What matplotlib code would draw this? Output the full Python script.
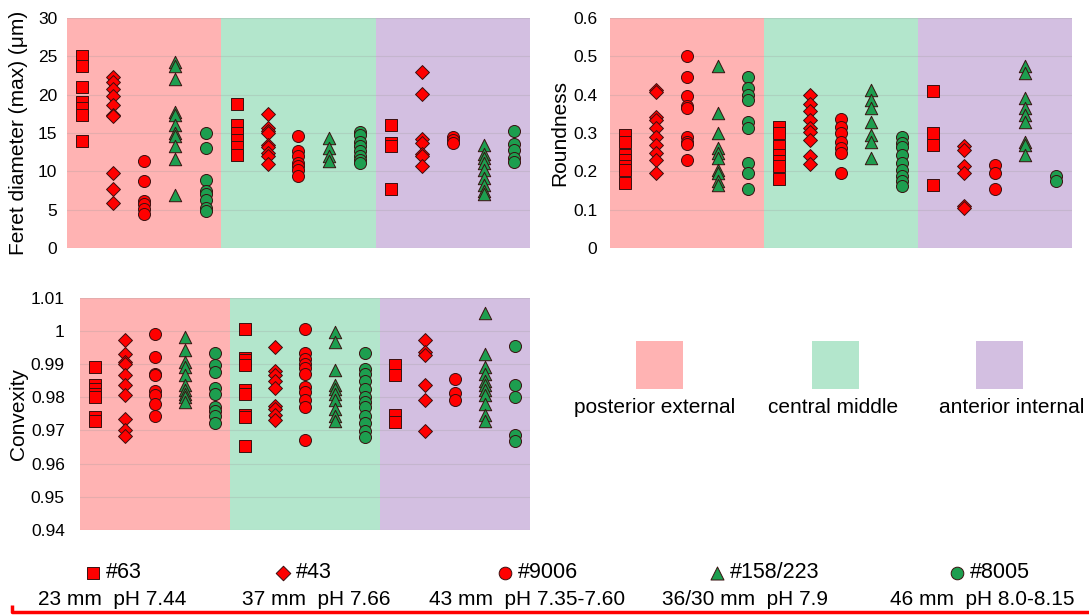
import matplotlib.pyplot as plt
import numpy as np

plt.rcParams['font.family'] = ['Liberation Sans', 'DejaVu Sans']

# regions (background bands) and series
regions = ['posterior external', 'central middle', 'anterior internal']
region_colors = ['#ffb3b3', '#b3e6cc', '#d3bfe1']
series = ['#63', '#43', '#9006', '#158/223', '#8005']
series_info = ['23 mm  pH 7.44', '37 mm  pH 7.66', '43 mm  pH 7.35-7.60',
               '36/30 mm  pH 7.9', '46 mm  pH 8.0-8.15']
series_markers = ['s', 'D', 'o', '^', 'o']
series_colors = ['#ff0000', '#ff0000', '#ff0000', '#1d9e4f', '#1d9e4f']
series_sizes = [78, 50, 75, 80, 75]

# Feret diameter (max), one list per region
feret_63 = [[25.0, 23.7, 21.0, 19.1, 18.3, 17.4, 14.0],
            [18.8, 16.1, 15.0, 14.1, 13.2, 12.2],
            [16.0, 13.7, 13.3, 7.7]]
feret_43 = [[22.3, 21.7, 20.7, 19.8, 18.7, 17.4, 17.2, 9.8, 7.7, 5.9],
            [17.5, 15.7, 15.3, 15.0, 13.5, 13.2, 12.4, 12.0, 11.0],
            [23.0, 20.1, 14.2, 13.7, 12.3, 12.0, 10.7]]
feret_9006 = [[11.4, 8.7, 6.2, 5.7, 5.1, 4.5],
              [14.6, 12.6, 12.0, 11.1, 10.7, 10.2, 9.4],
              [14.5, 14.1, 13.7]]
feret_158 = [[24.3, 23.7, 22.0, 17.8, 17.3, 16.0, 15.0, 14.6, 13.3, 11.6, 6.9],
             [14.3, 13.0, 12.0, 11.3],
             [13.5, 12.3, 11.7, 11.1, 10.2, 9.1, 8.3, 7.5, 7.0]]
feret_8005 = [[15.0, 13.0, 8.9, 7.5, 7.0, 6.3, 5.2, 4.8],
              [15.1, 14.8, 13.9, 13.3, 12.6, 12.0, 11.5, 11.1],
              [15.3, 13.6, 12.8, 11.7, 11.2]]

# Roundness
round_63 = [[0.296, 0.278, 0.243, 0.230, 0.213, 0.203, 0.171],
            [0.317, 0.300, 0.265, 0.243, 0.226, 0.213, 0.180],
            [0.409, 0.300, 0.268, 0.165]]
round_43 = [[0.413, 0.407, 0.342, 0.335, 0.313, 0.291, 0.270, 0.248, 0.230, 0.197],
            [0.400, 0.376, 0.357, 0.335, 0.313, 0.304, 0.283, 0.241, 0.220],
            [0.265, 0.257, 0.213, 0.196, 0.109, 0.104]]
round_9006 = [[0.500, 0.446, 0.396, 0.371, 0.365, 0.291, 0.278, 0.272, 0.230],
              [0.337, 0.317, 0.300, 0.278, 0.261, 0.248, 0.196],
              [0.217, 0.196, 0.154]]
round_158 = [[0.474, 0.352, 0.300, 0.261, 0.248, 0.235, 0.204, 0.197, 0.174, 0.165],
             [0.413, 0.387, 0.365, 0.330, 0.296, 0.278, 0.235],
             [0.474, 0.457, 0.391, 0.365, 0.348, 0.330, 0.278, 0.270, 0.243]]
round_8005 = [[0.446, 0.417, 0.400, 0.387, 0.328, 0.313, 0.223, 0.196, 0.154],
              [0.291, 0.274, 0.263, 0.243, 0.223, 0.204, 0.187, 0.174, 0.163],
              [0.187, 0.174]]

# Convexity
conv_63 = [[0.9892, 0.9836, 0.9826, 0.9811, 0.9800, 0.9742, 0.9730],
           [1.0006, 0.9920, 0.9912, 0.9897, 0.9821, 0.9811, 0.9748, 0.9740, 0.9654],
           [0.9897, 0.9867, 0.9748, 0.9725]]
conv_43 = [[0.9975, 0.9930, 0.9907, 0.9902, 0.9867, 0.9836, 0.9806, 0.9735, 0.9701, 0.9682],
           [0.9951, 0.9880, 0.9867, 0.9849, 0.9828, 0.9775, 0.9765, 0.9748, 0.9732],
           [0.9975, 0.9938, 0.9928, 0.9838, 0.9791, 0.9699]]
conv_9006 = [[0.9993, 0.9922, 0.9872, 0.9867, 0.9819, 0.9806, 0.9780, 0.9745],
             [1.0006, 0.9933, 0.9917, 0.9902, 0.9890, 0.9870, 0.9831, 0.9816, 0.9791, 0.9772, 0.9671],
             [0.9855, 0.9813, 0.9791]]
conv_158 = [[0.9983, 0.9943, 0.9907, 0.9892, 0.9867, 0.9836, 0.9821, 0.9811, 0.9800, 0.9785],
            [0.9999, 0.9968, 0.9882, 0.9839, 0.9826, 0.9811, 0.9791, 0.9765, 0.9745, 0.9730],
            [1.0056, 0.9931, 0.9892, 0.9872, 0.9851, 0.9836, 0.9821, 0.9806, 0.9780, 0.9748, 0.9730]]
conv_8005 = [[0.9935, 0.9897, 0.9877, 0.9829, 0.9809, 0.9770, 0.9760, 0.9745, 0.9722],
             [0.9933, 0.9887, 0.9872, 0.9851, 0.9826, 0.9800, 0.9785, 0.9770, 0.9745, 0.9722, 0.9699, 0.9681],
             [0.9955, 0.9836, 0.9800, 0.9687, 0.9669]]

fig = plt.figure(figsize=(10.89, 6.16), dpi=100)


def panel(rect, data, ylim, yticks, ticklabels, ylabel, pad, label_x):
    ax = fig.add_axes(rect)
    for r in range(3):
        ax.axvspan(r * 5, r * 5 + 5, color=region_colors[r], lw=0, zorder=0)
    for t in yticks:
        ax.axhline(t, color='#999999', alpha=0.25, lw=0.8, zorder=1)
    for j, vals in enumerate(data):
        for r in range(3):
            x = np.full(len(vals[r]), r * 5 + j + 0.5)
            ax.scatter(x, vals[r], marker=series_markers[j], s=series_sizes[j],
                       c=series_colors[j], edgecolors='#3a1010', linewidths=0.7, zorder=3)
    ax.set_xlim(0, 15)
    ax.set_ylim(*ylim)
    ax.set_yticks(yticks)
    ax.set_yticklabels(ticklabels, fontsize=12.5)
    ax.set_xticks([])
    ax.tick_params(axis='y', length=0, pad=pad)
    for s in ax.spines.values():
        s.set_visible(False)
    ax.set_ylabel(ylabel, fontsize=15)
    ax.yaxis.set_label_coords(label_x, 0.5)
    return ax


panel([0.0615, 0.597, 0.425, 0.374],
      [feret_63, feret_43, feret_9006, feret_158, feret_8005],
      (0, 30), [0, 5, 10, 15, 20, 25, 30],
      ['0', '5', '10', '15', '20', '25', '30'], 'Feret diameter (max) (μm)', 7, -0.084)

panel([0.560, 0.597, 0.424, 0.374],
      [round_63, round_43, round_9006, round_158, round_8005],
      (0, 0.6), [0, 0.1, 0.2, 0.3, 0.4, 0.5, 0.6],
      ['0', '0.1', '0.2', '0.3', '0.4', '0.5', '0.6'], 'Roundness', 9, -0.087)

panel([0.0735, 0.140, 0.413, 0.376],
      [conv_63, conv_43, conv_9006, conv_158, conv_8005],
      (0.94, 1.01), [0.94, 0.95, 0.96, 0.97, 0.98, 0.99, 1.0, 1.01],
      ['0.94', '0.95', '0.96', '0.97', '0.98', '0.99', '1', '1.01'], 'Convexity', 11, -0.116)

# overlay axes in figure fraction for the legends
lg = fig.add_axes([0, 0, 1, 1])
lg.set_xlim(0, 1)
lg.set_ylim(0, 1)
lg.axis('off')

# region legend
region_x = [0.584, 0.746, 0.896]
label_x = [0.601, 0.765, 0.929]
for r in range(3):
    lg.add_patch(plt.Rectangle((region_x[r], 0.369), 0.043, 0.077,
                               color=region_colors[r], lw=0))
    lg.text(label_x[r], 0.339, regions[r], fontsize=15, ha='center', va='center')

# series legend
marker_x = [0.085, 0.260, 0.464, 0.658, 0.879]
info_x = [0.103, 0.290, 0.484, 0.684, 0.902]
for j in range(5):
    lg.scatter([marker_x[j]], [0.070], marker=series_markers[j], s=series_sizes[j] * 1.1,
               c=series_colors[j], edgecolors='#3a1010', linewidths=0.7)
    lg.text(marker_x[j] + 0.012, 0.070, series[j], fontsize=15.5, ha='left', va='center')
    lg.text(info_x[j], 0.026, series_info[j], fontsize=15, ha='center', va='center')

# red frame edge at the bottom
lg.plot([0.011, 0.011, 1.0], [0.018, 0.006, 0.006], color='#ff0000', lw=2.5,
        solid_capstyle='butt')

plt.savefig('out.png', dpi=100)
